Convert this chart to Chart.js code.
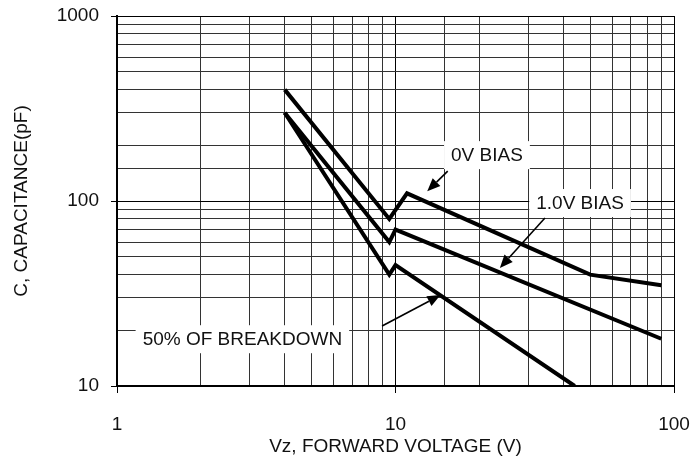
<!DOCTYPE html>
<html>
<head>
<meta charset="utf-8">
<script src="https://cdn.jsdelivr.net/npm/chart.js@4.4.1/dist/chart.umd.min.js"></script>
<style>
  html, body { margin: 0; padding: 0; background: #fff; }
  #wrap { width: 691px; height: 463px; }
</style>
</head>
<body>
<div id="wrap"><canvas id="chart_cap"></canvas></div>
<script>
// capacitance vs forward voltage, log-log
var bias0_x = [4, 9.5, 11, 50, 90];
var bias0_y = [400, 80, 110, 40, 35];

var bias1_x = [4, 9.5, 10, 90];
var bias1_y = [300, 60, 70, 18];

var half_x = [4, 9.5, 10, 44];
var half_y = [300, 40, 45, 10];

var x_title = "Vz, FORWARD VOLTAGE (V)";
var y_title = "C, CAPACITANCE(pF)";

var fuente = "Arial, 'Liberation Sans', sans-serif";

// callouts (data coords)
var notas = [
    { text: "0V BIAS", x: 21.3, y: 177 },
    { text: "1.0V BIAS", x: 46, y: 97.5 },
    { text: "50% OF BREAKDOWN", x: 2.82, y: 17.9 },
];
var flechas = [
    { x0: 15.4, y0: 145, x1: 13.0, y1: 113 },
    { x0: 34.4, y0: 80.9, x1: 23.7, y1: 43.5 },
    { x0: 8.95, y0: 21.1, x1: 14.5, y1: 31 },
];

function puntos(xs, ys) {
    return xs.map(function (x, i) { return { x: x, y: ys[i] }; });
}

function esMayor(v) {
    var l = Math.log10(v);
    return Math.abs(l - Math.round(l)) < 1e-6;
}

var notasPlugin = {
    id: "notas",
    beforeDatasetsDraw: function (chart) {
        var ctx = chart.ctx;
        var sx = chart.scales.x, sy = chart.scales.y;
        ctx.save();
        ctx.font = "19px " + fuente;
        ctx.textAlign = "center";
        ctx.textBaseline = "middle";
        notas.forEach(function (n) {
            var px = sx.getPixelForValue(n.x);
            var py = sy.getPixelForValue(n.y);
            var w = ctx.measureText(n.text).width;
            ctx.fillStyle = "#fff";
            ctx.fillRect(px - w / 2 - 7, py - 14, w + 14, 28);
            ctx.fillStyle = "#111";
            ctx.fillText(n.text, px, py + 1);
        });
        ctx.restore();
    },
    afterDatasetsDraw: function (chart) {
        var ctx = chart.ctx;
        var sx = chart.scales.x, sy = chart.scales.y;
        ctx.save();
        ctx.strokeStyle = "#000";
        ctx.fillStyle = "#000";
        ctx.lineWidth = 1.6;
        flechas.forEach(function (f) {
            var ax = sx.getPixelForValue(f.x0), ay = sy.getPixelForValue(f.y0);
            var bx = sx.getPixelForValue(f.x1), by = sy.getPixelForValue(f.y1);
            var ang = Math.atan2(by - ay, bx - ax);
            var largo = 13, ancho = 5.5;
            var cx = bx - largo * Math.cos(ang), cy = by - largo * Math.sin(ang);
            ctx.beginPath();
            ctx.moveTo(ax, ay);
            ctx.lineTo(cx, cy);
            ctx.stroke();
            ctx.beginPath();
            ctx.moveTo(bx, by);
            ctx.lineTo(cx + ancho * Math.sin(ang), cy - ancho * Math.cos(ang));
            ctx.lineTo(cx - ancho * Math.sin(ang), cy + ancho * Math.cos(ang));
            ctx.closePath();
            ctx.fill();
        });
        ctx.restore();
    },
};

var serie = {
    borderColor: "#000",
    borderWidth: 4,
    pointRadius: 0,
    tension: 0,
    fill: false,
};

var ctx_cap = document.getElementById("chart_cap");
var chart_cap = new Chart(ctx_cap, {
    type: "line",
    data: {
        datasets: [
            Object.assign({ label: "0V BIAS", data: puntos(bias0_x, bias0_y) }, serie),
            Object.assign({ label: "1.0V BIAS", data: puntos(bias1_x, bias1_y) }, serie),
            Object.assign({ label: "50% OF BREAKDOWN", data: puntos(half_x, half_y) }, serie),
        ],
    },
    options: {
        responsive: true,
        maintainAspectRatio: false,
        animation: false,
        layout: { padding: { top: 16, right: 17, left: 0, bottom: 0 } },
        plugins: {
            legend: { display: false },
            tooltip: { enabled: false },
        },
        scales: {
            x: {
                type: "logarithmic",
                min: 1,
                max: 100,
                afterFit: function (s) {
                    s.height = 77;
                    s.paddingLeft = 0;
                    s.paddingRight = 0;
                },
                border: { color: "#000", width: 2 },
                grid: {
                    color: function (c) { return esMayor(c.tick.value) ? "#000" : "#333"; },
                    lineWidth: 1,
                    tickLength: 7,
                    tickColor: function (c) { return esMayor(c.tick.value) ? "#000" : "rgba(0,0,0,0)"; },
                },
                ticks: {
                    autoSkip: false,
                    maxRotation: 0,
                    padding: 20,
                    color: "#111",
                    font: { family: fuente, size: 19 },
                    callback: function (v) { return esMayor(v) ? String(v) : ""; },
                },
                title: {
                    display: true,
                    text: x_title,
                    color: "#111",
                    font: { family: fuente, size: 19 },
                    padding: { top: 0, bottom: 5 },
                },
            },
            y: {
                type: "logarithmic",
                min: 10,
                max: 1000,
                afterFit: function (s) {
                    s.width = 117;
                    s.paddingTop = 0;
                    s.paddingBottom = 0;
                },
                border: { color: "#000", width: 2 },
                grid: {
                    color: function (c) { return esMayor(c.tick.value) ? "#000" : "#333"; },
                    lineWidth: 1,
                    tickLength: 6,
                    tickColor: function (c) { return esMayor(c.tick.value) ? "#000" : "rgba(0,0,0,0)"; },
                },
                ticks: {
                    autoSkip: false,
                    padding: 12,
                    color: "#111",
                    font: { family: fuente, size: 19 },
                    callback: function (v) { return esMayor(v) ? String(v) : ""; },
                },
                title: {
                    display: true,
                    text: y_title,
                    color: "#111",
                    font: { family: fuente, size: 19 },
                    padding: { top: 10, bottom: 0 },
                },
            },
        },
    },
    plugins: [notasPlugin],
});
</script>
</body>
</html>
